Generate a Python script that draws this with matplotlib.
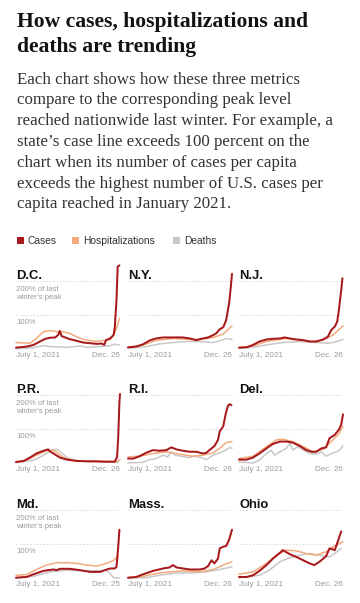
import matplotlib
matplotlib.use("Agg")
import matplotlib.pyplot as plt
from matplotlib.patches import Rectangle

# ---------------- text content ----------------
title_lines = ["How cases, hospitalizations and", "deaths are trending"]
body_lines = [
    "Each chart shows how these three metrics",
    "compare to the corresponding peak level",
    "reached nationwide last winter. For example, a",
    "state\u2019s case line exceeds 100 percent on the",
    "chart when its number of cases per capita",
    "exceeds the highest number of U.S. cases per",
    "capita reached in January 2021.",
]
legend_labels = ["Cases", "Hospitalizations", "Deaths"]
states = ["D.C.", "N.Y.", "N.J.", "P.R.", "R.I.", "Del.", "Md.", "Mass.", "Ohio"]
start_label = "July 1, 2021"
end_labels = ["Dec. 26", "Dec. 26", "Dec. 26", "Dec. 26", "Dec. 26", "Dec. 26",
              "Dec. 25", "Dec. 26", "Dec. 26"]
peak_label = "200% of last\nwinter\u2019s peak"
hundred_label = "100%"

# ---------------- data: (days since July 1, 2021, percent of last winter's U.S. peak) ----------------
dc_cases = [(0, 4), (18, 7), (30, 12), (41, 22), (50, 30), (58, 33), (67, 34), (72, 41), (75, 53),
            (78, 38), (84, 34), (92, 29), (104, 24), (115, 19), (127, 17), (138, 15), (147, 16),
            (151, 12), (154, 26), (161, 31), (167, 41), (169, 61), (172, 144), (174, 242), (177, 246)]
dc_hosp = [(0, 19), (24, 17), (35, 31), (47, 51), (58, 54), (70, 51), (81, 51), (92, 46), (104, 36),
           (115, 28), (127, 25), (138, 22), (149, 25), (161, 28), (167, 41), (172, 61), (177, 90)]
dc_deaths = [(0, 1), (30, 4), (47, 10), (58, 7), (87, 5), (110, 9), (121, 5), (144, 7), (161, 10),
             (169, 14), (177, 12)]

ny_cases = [(0, 5), (14, 7), (26, 14), (37, 25), (48, 31), (60, 34), (77, 34), (94, 34), (106, 31),
            (117, 26), (128, 31), (137, 34), (146, 41), (151, 46), (157, 58), (163, 64), (168, 85),
            (173, 134), (176, 183), (178, 221)]
ny_hosp = [(0, 4), (26, 12), (48, 25), (77, 31), (106, 28), (123, 28), (146, 34), (163, 44), (178, 68)]
ny_deaths = [(0, 2), (31, 7), (54, 15), (77, 19), (100, 22), (123, 22), (146, 19), (157, 24),
             (168, 31), (178, 28)]

nj_cases = [(0, 4), (13, 5), (24, 12), (35, 22), (47, 28), (58, 30), (70, 31), (78, 34), (87, 31),
            (98, 28), (110, 26), (121, 22), (132, 22), (144, 28), (152, 36), (158, 56), (164, 66),
            (168, 80), (171, 115), (175, 174), (177, 208)]
nj_hosp = [(0, 4), (24, 9), (47, 22), (70, 28), (81, 31), (104, 26), (127, 22), (144, 26), (161, 41),
           (178, 68)]
nj_deaths = [(0, 2), (24, 5), (47, 12), (75, 19), (104, 22), (132, 19), (155, 17), (167, 22), (178, 28)]

pr_cases = [(0, 3), (13, 6), (24, 16), (35, 28), (47, 36), (55, 40), (58, 34), (64, 28), (75, 16),
            (87, 10), (104, 6), (121, 5), (138, 5), (155, 4), (169, 4), (173, 18), (175, 78),
            (177, 178), (178, 203)]
pr_hosp = [(0, 2), (18, 8), (35, 23), (52, 36), (64, 38), (72, 28), (81, 16), (98, 8), (121, 5),
           (144, 4), (172, 4), (178, 10)]
pr_deaths = [(0, 1), (30, 8), (47, 23), (61, 38), (70, 40), (78, 30), (87, 16), (104, 6), (144, 3),
             (175, 2)]

ri_cases = [(0, 13), (9, 13), (20, 20), (31, 30), (43, 38), (54, 36), (66, 38), (74, 46), (83, 40),
            (94, 36), (106, 33), (117, 33), (128, 28), (134, 30), (143, 43), (148, 50), (154, 68),
            (157, 93), (163, 108), (167, 143), (171, 168), (174, 173), (177, 170)]
ri_hosp = [(0, 18), (20, 20), (43, 28), (66, 33), (88, 26), (111, 20), (128, 23), (146, 30), (157, 43),
           (168, 60), (178, 63)]
ri_deaths = [(0, 0), (26, 2), (37, 10), (48, 13), (60, 23), (68, 18), (74, 33), (80, 23), (91, 20),
             (103, 16), (114, 20), (125, 16), (134, 10), (146, 23), (157, 30), (168, 38), (174, 46),
             (178, 43)]

de_cases = [(0, 10), (13, 10), (24, 16), (35, 28), (47, 43), (58, 56), (70, 63), (81, 63), (92, 60),
            (104, 50), (115, 38), (124, 33), (132, 33), (141, 43), (149, 46), (155, 73), (164, 83),
            (171, 98), (175, 113), (178, 143)]
de_hosp = [(0, 13), (24, 20), (47, 48), (64, 68), (75, 70), (92, 63), (110, 48), (127, 33), (144, 40),
           (161, 68), (172, 88), (178, 108)]
de_deaths = [(0, 3), (24, 0), (35, 8), (47, 28), (55, 38), (61, 23), (70, 33), (81, 43), (87, 58),
             (92, 38), (101, 48), (110, 38), (121, 28), (132, 26), (141, 33), (149, 20), (158, 28),
             (167, 33), (172, 38), (178, 50)]

md_cases = [(0, 1), (18, 3), (30, 11), (47, 21), (64, 25), (70, 23), (75, 27), (92, 27), (110, 23),
            (127, 18), (144, 18), (152, 23), (161, 28), (169, 28), (172, 33), (175, 92), (177, 142)]
md_hosp = [(0, 8), (18, 10), (35, 25), (52, 38), (70, 45), (87, 45), (104, 43), (121, 38), (138, 35),
           (155, 43), (167, 52), (175, 64)]
md_deaths = [(0, 0), (30, 5), (58, 18), (87, 23), (115, 21), (138, 21), (155, 23), (161, 13), (167, 1),
             (177, 0)]

ma_cases = [(0, 1), (14, 3), (26, 11), (43, 21), (60, 28), (71, 31), (77, 38), (83, 31), (94, 28),
            (106, 25), (123, 25), (131, 28), (137, 35), (143, 52), (148, 43), (154, 57), (157, 87),
            (163, 92), (168, 94), (173, 112), (178, 142)]
ma_hosp = [(0, 0), (26, 5), (48, 13), (71, 18), (94, 21), (123, 18), (146, 25), (163, 38), (178, 48)]
ma_deaths = [(0, 0), (31, 1), (54, 8), (83, 15), (111, 15), (134, 18), (157, 25), (178, 33)]

oh_cases = [(0, 3), (13, 3), (24, 8), (35, 21), (47, 38), (58, 57), (70, 74), (75, 82), (87, 70),
            (98, 62), (110, 52), (121, 43), (129, 38), (138, 48), (149, 64), (155, 87), (164, 82),
            (169, 107), (175, 137)]
oh_hosp = [(0, 11), (24, 18), (47, 43), (64, 67), (81, 82), (98, 80), (115, 72), (132, 67), (149, 77),
           (161, 92), (178, 107)]
oh_deaths = [(0, 1), (35, 8), (52, 23), (70, 48), (87, 60), (104, 67), (121, 72), (138, 67), (155, 62),
             (167, 77), (175, 87)]

series = {
    "D.C.": (dc_cases, dc_hosp, dc_deaths),
    "N.Y.": (ny_cases, ny_hosp, ny_deaths),
    "N.J.": (nj_cases, nj_hosp, nj_deaths),
    "P.R.": (pr_cases, pr_hosp, pr_deaths),
    "R.I.": (ri_cases, ri_hosp, ri_deaths),
    "Del.": (de_cases, de_hosp, de_deaths),
    "Md.": (md_cases, md_hosp, md_deaths),
    "Mass.": (ma_cases, ma_hosp, ma_deaths),
    "Ohio": (oh_cases, oh_hosp, oh_deaths),
}

# ---------------- styling ----------------
W, H = 360, 603
CASE_C = "#a8191c"
HOSP_C = "#f3aa7d"
DEATH_C = "#c8c8c8"
GRID_C = "#d6d6d6"
LABEL_C = "#9a9a9a"
SANS = ["Liberation Sans", "DejaVu Sans"]
SERIF = ["Liberation Serif", "DejaVu Serif"]

fig = plt.figure(figsize=(W / 100, H / 100), dpi=100)
fig.patch.set_facecolor("white")


def fx(x):
    return x / W


def fy(y):
    return 1 - y / H


# title
for line, yb in zip(title_lines, [27, 52]):
    fig.text(fx(17), fy(yb), line, family=SERIF, fontweight="bold", fontsize=15.6,
             color="#121212", va="baseline", ha="left")

# body
body_y = [83.5, 104.3, 125.1, 145.9, 166.7, 187.5, 208.3]
for line, yb in zip(body_lines, body_y):
    fig.text(fx(17), fy(yb), line, family=SERIF, fontsize=12.2, color="#333333",
             va="baseline", ha="left")

# legend
leg_x = [17, 72, 173]
for lab, c, x0 in zip(legend_labels, [CASE_C, HOSP_C, DEATH_C], leg_x):
    fig.add_artist(Rectangle((fx(x0), fy(244)), 7 / W, 7 / H, transform=fig.transFigure,
                             facecolor=c, edgecolor="none"))
    fig.text(fx(x0 + 11), fy(240.5), lab, family=SANS, fontsize=7.4, color="#333333",
             va="center", ha="left")

# panels
col_left = [16, 128, 239]
row_base = [349, 463, 578]
PW, PH = 104, 85
YMAX = 250
XMAX = 178

for i, st in enumerate(states):
    r, c = divmod(i, 3)
    L, B = col_left[c], row_base[r]
    ax = fig.add_axes([fx(L), fy(B), PW / W, PH / H])
    ax.set_xlim(0, XMAX)
    ax.set_ylim(0, YMAX)
    ax.axis("off")
    for g in (100, 200):
        ax.axhline(g, color=GRID_C, lw=0.6, ls=(0, (2, 2)), zorder=0)
    ax.axhline(0, color="#e2e2e2", lw=0.6, zorder=0)

    cases, hosp, deaths = series[st]
    for data, col, lw in ((deaths, DEATH_C, 1.1), (hosp, HOSP_C, 1.1), (cases, CASE_C, 1.45)):
        xs = [d for d, _ in data]
        ys = [v for _, v in data]
        ax.plot(xs, ys, color=col, lw=lw, clip_on=False, solid_joinstyle="round",
                solid_capstyle="round")

    ax.text(0.5, 207, st, family=SANS, fontweight="bold", fontsize=9.4, color="#121212",
            va="baseline", ha="left")
    if c == 0:
        ax.text(0.5, 186, peak_label, family=SANS, fontsize=5.6, color=LABEL_C,
                va="top", ha="left", linespacing=1.15)
        ax.text(0.5, 87, hundred_label, family=SANS, fontsize=5.6, color=LABEL_C,
                va="top", ha="left")
    ax.text(0, -20, start_label, family=SANS, fontsize=5.9, color=LABEL_C,
            va="center", ha="left")
    ax.text(XMAX, -20, end_labels[i], family=SANS, fontsize=5.9, color=LABEL_C,
            va="center", ha="right")

fig.savefig("out.png", dpi=100, facecolor="white")
